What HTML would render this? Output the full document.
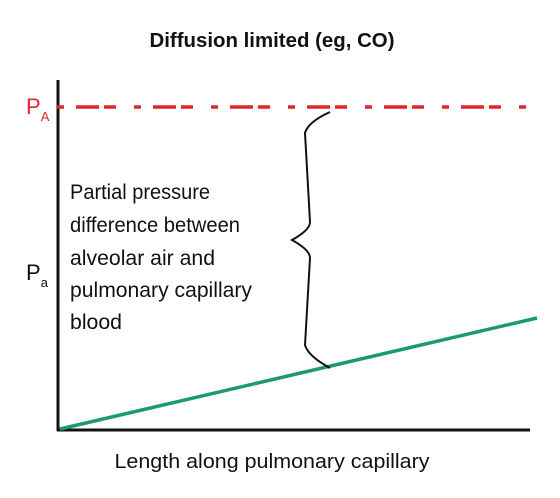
<!DOCTYPE html>
<html><head><meta charset="utf-8"><style>
body{margin:0;background:#fff}
svg{display:block;font-family:"Liberation Sans",sans-serif}
</style></head><body>
<svg width="560" height="498" viewBox="0 0 560 498">
<text x="272" y="47" text-anchor="middle" font-size="20" font-weight="bold" fill="#111" textLength="245" lengthAdjust="spacingAndGlyphs">Diffusion limited (eg, CO)</text>
<line x1="58" y1="80" x2="58" y2="431" stroke="#111" stroke-width="3"/>
<line x1="57" y1="430" x2="530" y2="430" stroke="#111" stroke-width="3"/>
<line x1="57" y1="107" x2="530" y2="107" stroke="#e0262f" stroke-width="3.5" stroke-dasharray="7 12 23 5 12 18"/>
<text x="26" y="114" font-size="22" fill="#e0262f">P<tspan font-size="13" dy="7">A</tspan></text>
<text x="26" y="280" font-size="22" fill="#111">P<tspan font-size="13" dy="7">a</tspan></text>
<line x1="60" y1="429" x2="537" y2="318" stroke="#1b9a6a" stroke-width="3.5"/>
<path d="M330,112 Q308,122 305,133 L310,222 Q310,230 292,240 Q310,250 310,258 L305,345 Q308,356 330,368" fill="none" stroke="#111" stroke-width="2"/>
<g font-size="21" fill="#111">
<text x="70" y="199" textLength="140" lengthAdjust="spacingAndGlyphs">Partial pressure</text>
<text x="70" y="232" textLength="170" lengthAdjust="spacingAndGlyphs">difference between</text>
<text x="70" y="265" textLength="145" lengthAdjust="spacingAndGlyphs">alveolar air and</text>
<text x="70" y="297" textLength="182" lengthAdjust="spacingAndGlyphs">pulmonary capillary</text>
<text x="70" y="329" textLength="52" lengthAdjust="spacingAndGlyphs">blood</text>
</g>
<text x="272" y="468" text-anchor="middle" font-size="20" fill="#111" textLength="315" lengthAdjust="spacingAndGlyphs">Length along pulmonary capillary</text>
</svg>
</body></html>
